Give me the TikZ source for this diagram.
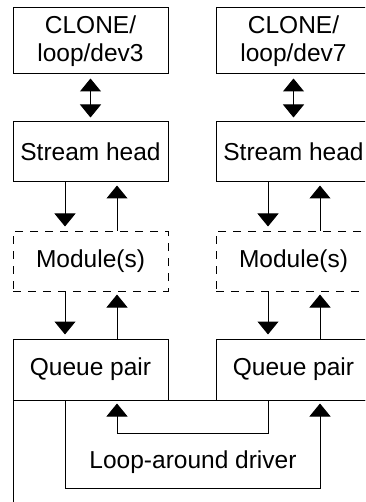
\documentclass[tikz,border=0pt]{standalone}
\usepackage{fontspec}
\setmainfont{Liberation Sans}
\usetikzlibrary{arrows.meta, positioning}
\tikzset{
  box/.style={draw, line width=1pt, minimum width=155pt, inner sep=0pt, align=center},
  modbox/.style={box, dashed, dash pattern=on 8pt off 7pt},
  flow/.style={line width=1pt, -{Triangle[width=21pt,length=13pt]}},
  bothflow/.style={line width=1pt, {Triangle[width=21pt,length=13pt]}-{Triangle[width=21pt,length=13pt]}}
}

\begin{document}
\begin{tikzpicture}[x=1pt, y=-1pt, font=\fontsize{24.5}{28}\selectfont]
  \useasboundingbox (0,0) rectangle (365,502);
  \clip (0,0) rectangle (365,502);
  % driver enclosure, runs past the lower and right edges
  \draw[line width=1pt] (13,520) -- (13,400) -- (420,400);
  \foreach \x/\d in {90.5/3, 293.5/7}{
    \node[box, minimum height=66pt] (clone\d) at (\x,41) {CLONE/\\loop/dev\d};
    \node[box, minimum height=60pt] (head\d) at (\x,152) {Stream head};
    \node[modbox, minimum height=60pt] (mod\d) at (\x,261) {Module(s)};
    \node[box, minimum height=61pt] (queue\d) at (\x,369.5) {Queue pair};
    \draw[bothflow, shorten <=4pt, shorten >=4pt] (clone\d) -- (head\d);
    \draw[flow, shorten >=4pt] ([xshift=-25.5pt]head\d.south) -- ([xshift=-25.5pt]mod\d.north);
    \draw[flow, shorten >=3pt] ([xshift=26.5pt]mod\d.north) -- ([xshift=26.5pt]head\d.south);
    \draw[flow, shorten >=4pt] ([xshift=-25.5pt]mod\d.south) -- ([xshift=-25.5pt]queue\d.north);
    \draw[flow, shorten >=3pt] ([xshift=26.5pt]queue\d.north) -- ([xshift=26.5pt]mod\d.south);
  }
  \node (driver) at (193,462) {Loop-around driver};
  % the two loops through the driver
  \draw[flow, shorten >=3pt] ([xshift=-25.5pt]queue3.south) -- ++(0,88) -| ([xshift=26.5pt]queue7.south);
  \draw[flow, shorten >=3pt] ([xshift=-25.5pt]queue7.south) -- ++(0,33) -| ([xshift=26.5pt]queue3.south);
\end{tikzpicture}
\end{document}
